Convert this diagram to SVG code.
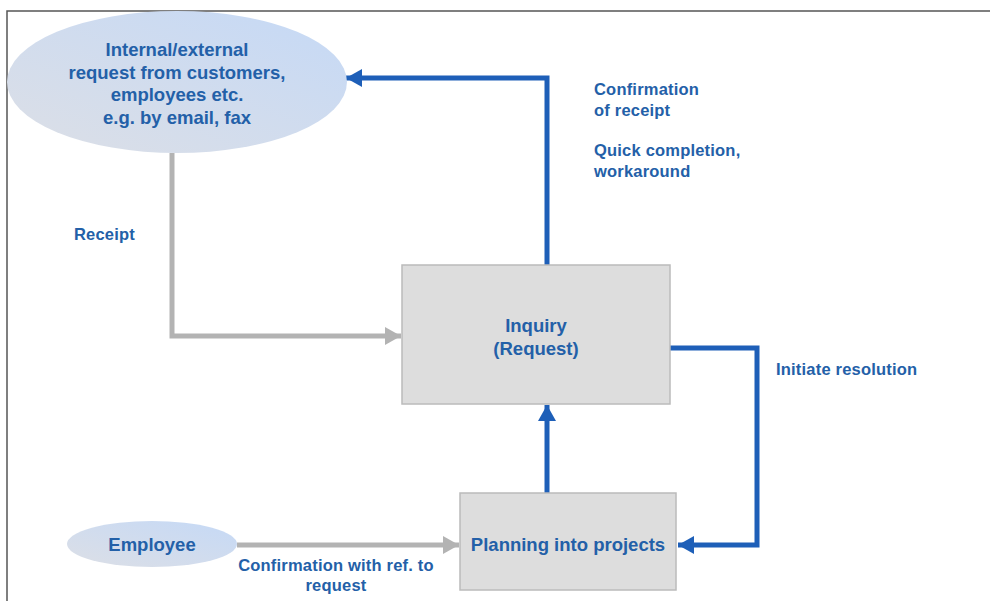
<svg xmlns="http://www.w3.org/2000/svg" width="990" height="601" viewBox="0 0 990 601">
<style>
.t{font-family:"Liberation Sans",Arial,sans-serif;font-weight:bold;fill:#2360A8;text-anchor:middle}
.n{font-size:18.5px}
.l{font-size:16.5px;letter-spacing:0.2px}
.la{text-anchor:start}
.box{fill:#DDDDDD;stroke:#BBBBBB;stroke-width:1.5}
.blue{fill:none;stroke:#1E5FB8;stroke-width:5}
.gray{fill:none;stroke:#B3B3B3;stroke-width:5}
</style>
<defs>
<linearGradient id="eg" x1="0" y1="1" x2="1" y2="0">
<stop offset="0" stop-color="#DCDFE6"/>
<stop offset="1" stop-color="#C5D9F6"/>
</linearGradient>
<marker id="ab" markerUnits="userSpaceOnUse" markerWidth="18" markerHeight="18" refX="16" refY="9" orient="auto">
<path d="M0,0 L16,9 L0,18 Z" fill="#1E5FB8"/>
</marker>
<marker id="ag" markerUnits="userSpaceOnUse" markerWidth="18" markerHeight="18" refX="16" refY="9" orient="auto">
<path d="M0,0 L16,9 L0,18 Z" fill="#B3B3B3"/>
</marker>
</defs>
<rect width="990" height="601" fill="#FFFFFF"/>
<path d="M7,601 L7,11 L990,11" fill="none" stroke="#555555" stroke-width="1.5"/>
<g id="connectors">
<path class="gray" d="M172,153 L172,336 L401,336" marker-end="url(#ag)"/>
<path class="gray" d="M237,545 L459,545" marker-end="url(#ag)"/>
<path class="blue" d="M547,265 L547,78 L346,78" marker-end="url(#ab)"/>
<path class="blue" d="M670,348 L757,348 L757,545 L678,545" marker-end="url(#ab)"/>
<path class="blue" d="M547,493 L547,405" marker-end="url(#ab)"/>
</g>
<g id="request">
<ellipse cx="177" cy="82" rx="170" ry="71" fill="url(#eg)"/>
<text class="t n" x="177" y="56">Internal/external</text>
<text class="t n" x="177" y="79">request from customers,</text>
<text class="t n" x="177" y="101">employees etc.</text>
<text class="t n" x="177" y="124">e.g. by email, fax</text>
</g>
<g id="inquiry">
<rect class="box" x="402" y="265" width="268" height="139"/>
<text class="t n" x="536" y="332">Inquiry</text>
<text class="t n" x="536" y="355">(Request)</text>
</g>
<g id="planning">
<rect class="box" x="460" y="493" width="216" height="97"/>
<text class="t n" x="568" y="551">Planning into projects</text>
</g>
<g id="employee">
<ellipse cx="152" cy="544" rx="85" ry="23" fill="url(#eg)"/>
<text class="t n" x="152" y="551">Employee</text>
</g>
<g id="labels">
<text class="t l la" x="74" y="240">Receipt</text>
<text class="t l la" x="594" y="95">Confirmation</text>
<text class="t l la" x="594" y="116">of receipt</text>
<text class="t l la" x="594" y="156">Quick completion,</text>
<text class="t l la" x="594" y="177">workaround</text>
<text class="t l la" x="776" y="375">Initiate resolution</text>
<text class="t l" x="336" y="571">Confirmation with ref. to</text>
<text class="t l" x="336" y="591">request</text>
</g>
</svg>
